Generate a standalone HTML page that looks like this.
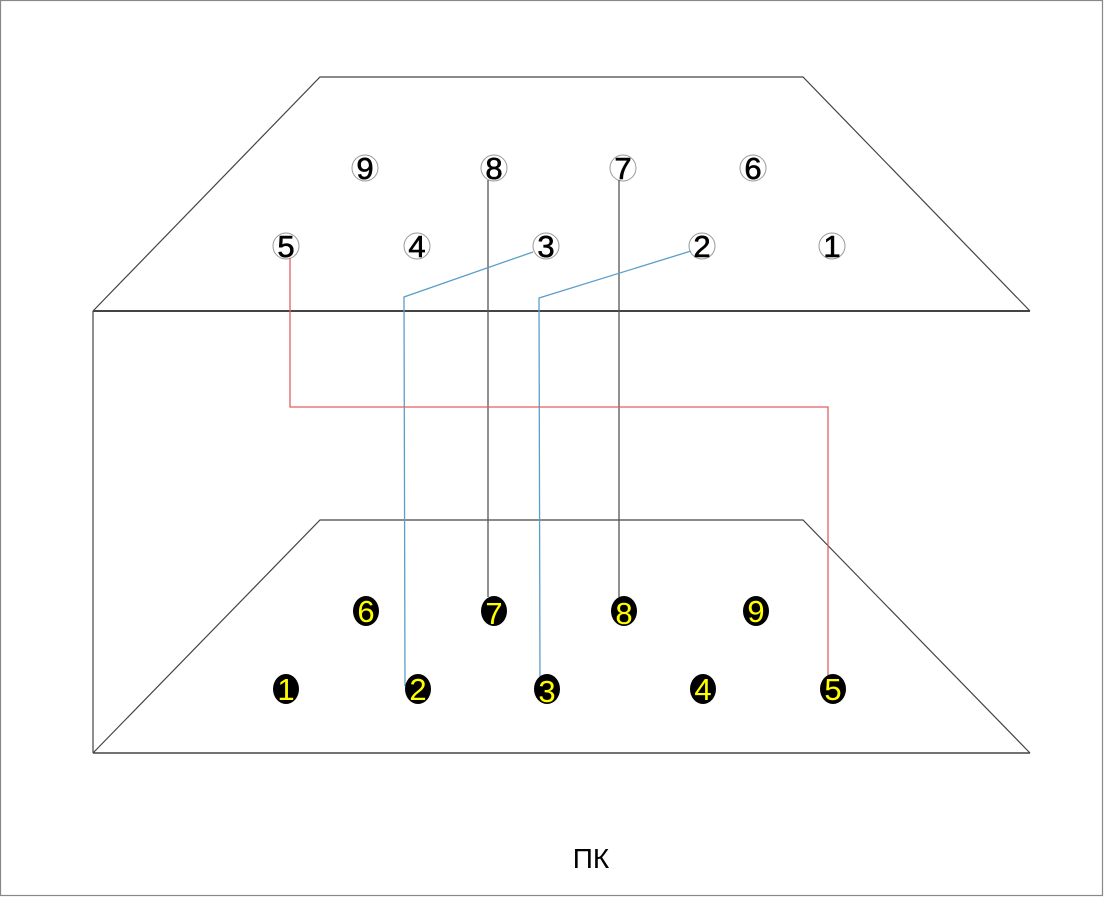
<!DOCTYPE html>
<html><head><meta charset="utf-8"><style>
html,body{margin:0;padding:0;background:#fff;}
svg{display:block;}
text{font-family:"Liberation Sans",Arial,sans-serif;}
</style></head><body>
<svg width="1105" height="898" viewBox="0 0 1105 898" xmlns="http://www.w3.org/2000/svg">
<rect x="0.5" y="0.5" width="1102" height="895" fill="#fff" stroke="#888" stroke-width="1.2"/>
<g stroke="#444" stroke-width="1.2" fill="none">
<polyline points="93,311 320,77 803,77 1030,311"/>
<line x1="93" y1="311" x2="1030" y2="311" stroke-width="2"/>
<line x1="93" y1="311" x2="93" y2="753"/>
<polyline points="93,753 320,520 803,520 1030,753"/>
<line x1="93" y1="753" x2="1030" y2="753" stroke-width="1.6"/>
</g>
<g fill="none" stroke="#999" stroke-width="1">
<circle cx="365" cy="168" r="13"/><circle cx="494" cy="168" r="13"/><circle cx="623" cy="168" r="13"/><circle cx="753" cy="168" r="13"/>
<circle cx="286" cy="246" r="13"/><circle cx="417" cy="246" r="13"/><circle cx="546" cy="246" r="13"/><circle cx="702" cy="246" r="13"/><circle cx="832" cy="246" r="13"/>
</g>
<g stroke-width="1.3" fill="none">
<line x1="488" y1="180" x2="488" y2="597" stroke="#555"/>
<line x1="619" y1="180" x2="619" y2="600" stroke="#555"/>
<polyline points="533,252 404,297 405,686" stroke="#5a9fc8"/>
<polyline points="691,251 539,298 540,686" stroke="#5a9fc8"/>
<polyline points="290,258 290,407 828,407 828,682" stroke="#e06060"/>
</g>
<g font-size="31" text-anchor="middle" fill="#000" stroke="#000" stroke-width="0.6">
<text x="365" y="179">9</text><text x="494" y="179">8</text><text x="623" y="179">7</text><text x="753" y="179">6</text>
<text x="286" y="257">5</text><text x="417" y="257">4</text><text x="546" y="257">3</text><text x="702" y="257">2</text><text x="832" y="257">1</text>
</g>
<g fill="#000">
<ellipse cx="366" cy="611" rx="13" ry="15"/><ellipse cx="494" cy="611" rx="13" ry="15"/><ellipse cx="624" cy="611" rx="13" ry="15"/><ellipse cx="756" cy="611" rx="13" ry="15"/>
<ellipse cx="286" cy="689" rx="13" ry="15"/><ellipse cx="418" cy="689" rx="13" ry="15"/><ellipse cx="547" cy="689" rx="13" ry="15"/><ellipse cx="703" cy="689" rx="13" ry="15"/><ellipse cx="833" cy="689" rx="13" ry="15"/>
</g>
<g font-size="31" text-anchor="middle" fill="#ffff00">
<text x="366" y="622">6</text><text x="494" y="624">7</text><text x="624" y="624">8</text><text x="756" y="622">9</text>
<text x="286" y="700">1</text><text x="418" y="700">2</text><text x="547" y="702">3</text><text x="703" y="700">4</text><text x="833" y="700">5</text>
</g>
<text x="591" y="868" font-size="28" text-anchor="middle" fill="#000">ПК</text>
</svg>
</body></html>
